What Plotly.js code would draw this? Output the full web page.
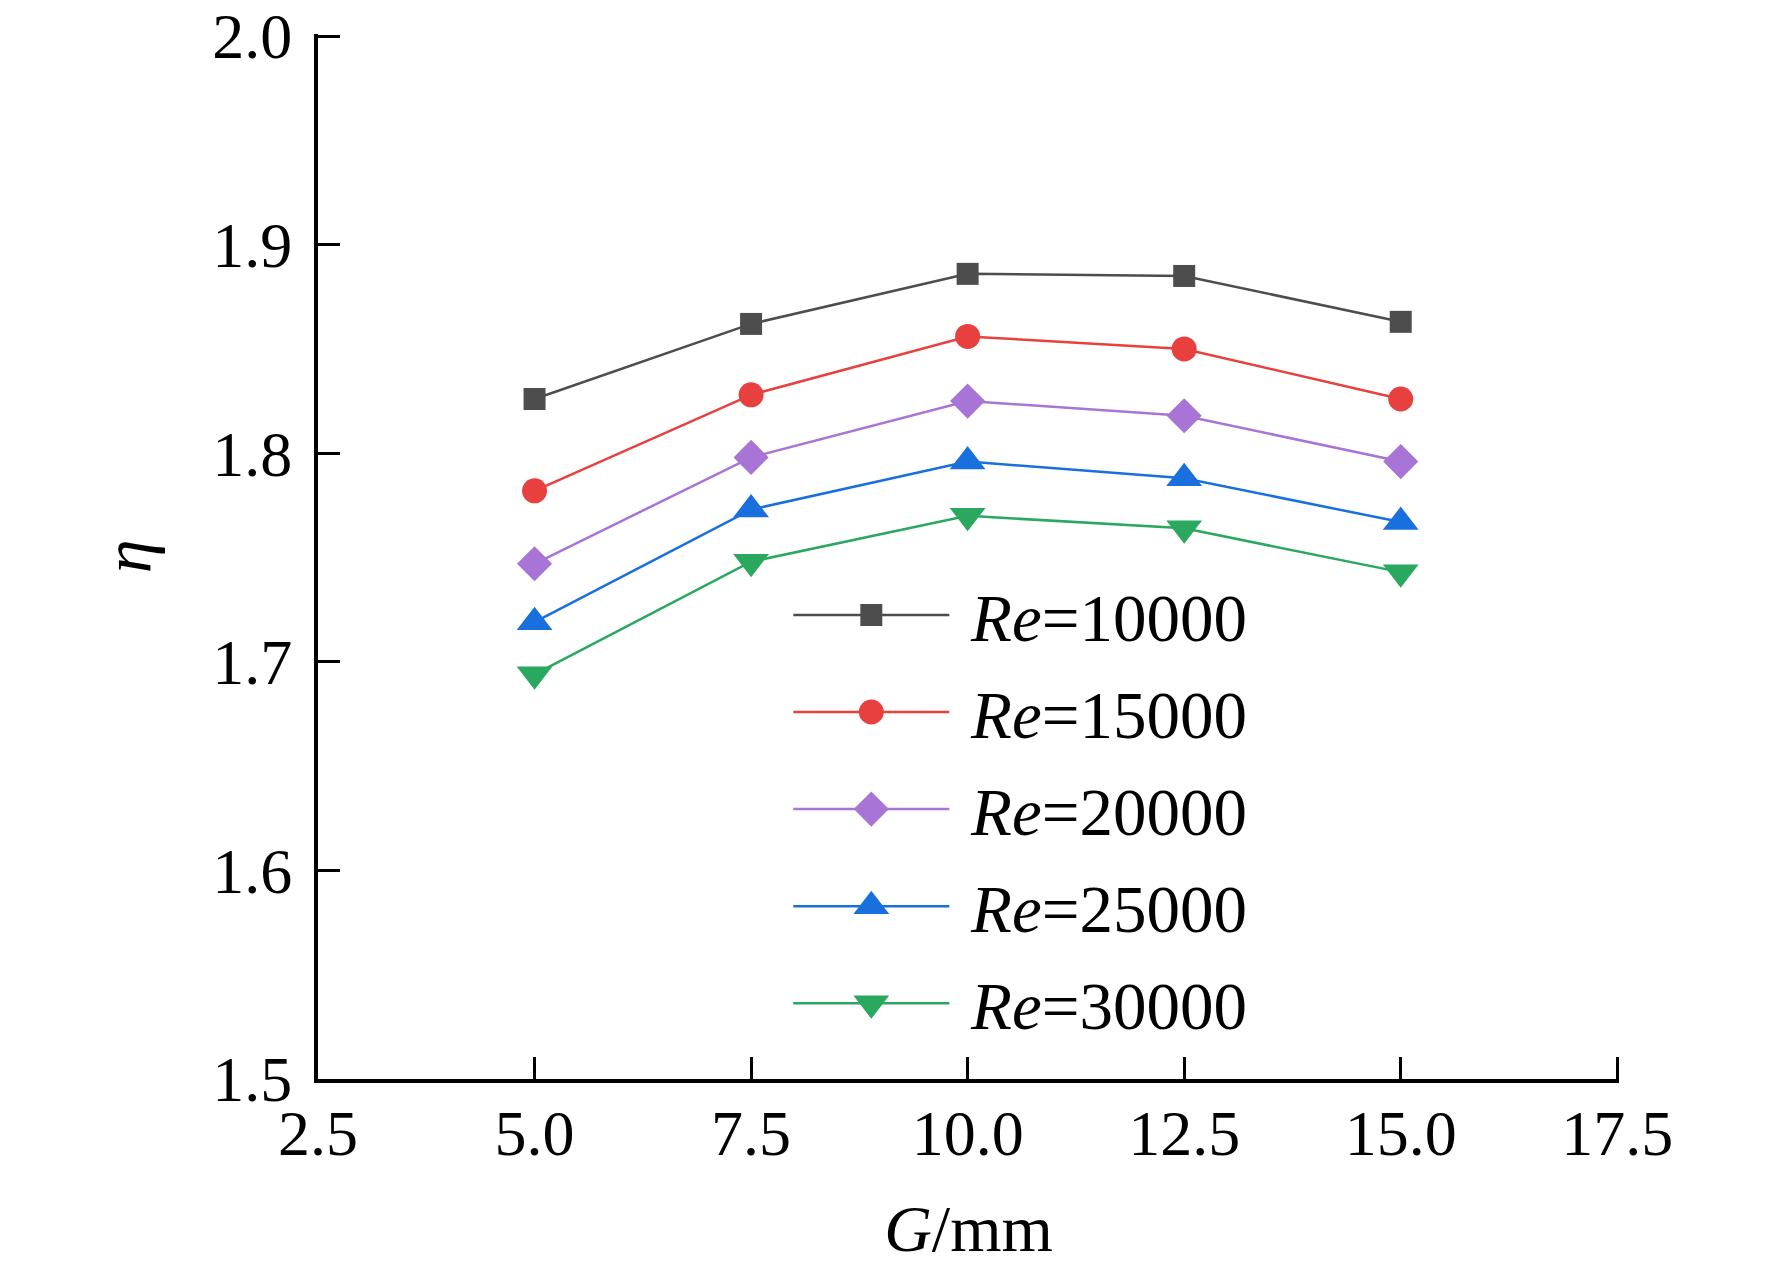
<!DOCTYPE html>
<html>
<head>
<meta charset="utf-8">
<script src="https://cdn.plot.ly/plotly-3.0.1.min.js"></script>
<style>
  html, body { margin: 0; padding: 0; background: #fff; }
  #chart { width: 1772px; height: 1272px; }
</style>
</head>
<body>
<div id="chart"></div>
<script>
// gap G in mm
const gap = [5.0, 7.5, 10.0, 12.5, 15.0];

// eta per Reynolds number
const eta10000 = [1.826, 1.862, 1.886, 1.885, 1.863];
const eta15000 = [1.782, 1.828, 1.856, 1.850, 1.826];
const eta20000 = [1.747, 1.798, 1.825, 1.818, 1.796];
const eta25000 = [1.719, 1.773, 1.796, 1.788, 1.767];
const eta30000 = [1.694, 1.748, 1.770, 1.764, 1.743];

const reLabels = ["10000", "15000", "20000", "25000", "30000"];

const xTicks = [2.5, 5, 7.5, 10, 12.5, 15, 17.5];
const xTickText = ["2.5", "5.0", "7.5", "10.0", "12.5", "15.0", "17.5"];
const yTicks = [1.5, 1.6, 1.7, 1.8, 1.9, 2.0];
const yTickText = ["1.5", "1.6", "1.7", "1.8", "1.9", "2.0"];

const serif = "Liberation Serif, Times New Roman, serif";

function series(y, idx, color, symbol, size) {
  return {
    x: gap,
    y: y,
    type: "scatter",
    mode: "lines+markers",
    name: "&nbsp;<i>Re</i>=" + reLabels[idx],
    legendgroup: "g" + idx,
    line: { color: color, width: 2.5 },
    marker: { color: color, symbol: symbol, size: size, line: { width: 0 } }
  };
}

const traces = [
  series(eta10000, 0, "#4d4d4d", "square", 22),
  series(eta15000, 1, "#e8403f", "circle", 25),
  series(eta20000, 2, "#a874d6", "diamond", 27),
  series(eta25000, 3, "#1a6fdf", "triangle-up", 31),
  series(eta30000, 4, "#2aa860", "triangle-down", 31)
];

const layout = {
  width: 1772,
  height: 1272,
  paper_bgcolor: "#fff",
  plot_bgcolor: "#fff",
  margin: { l: 318, r: 153, t: 34, b: 193 },
  font: { family: serif, color: "#000", size: 64 },
  showlegend: true,
  legend: {
    x: 0.3615,
    y: 0.492,
    xanchor: "left",
    yanchor: "top",
    bgcolor: "rgba(0,0,0,0)",
    font: { family: serif, size: 67, color: "#000" },
    traceorder: "grouped",
    tracegroupgap: 7,
    itemwidth: 156
  },
  xaxis: {
    range: [2.5, 17.52],
    tickvals: xTicks,
    ticktext: xTickText,
    ticks: "inside",
    ticklen: 22,
    tickwidth: 3,
    tickcolor: "#000",
    showline: true,
    linewidth: 4,
    linecolor: "#000",
    showgrid: false,
    zeroline: false,
    ticklabelstandoff: -5,
    ticklabeloverflow: "allow",
    tickfont: { family: serif, size: 64 },
    title: { text: "<i>G</i>/mm", font: { family: serif, size: 66 }, standoff: 38 }
  },
  yaxis: {
    range: [1.5, 2.001],
    tickvals: yTicks,
    ticktext: yTickText,
    ticks: "inside",
    ticklen: 22,
    tickwidth: 3,
    tickcolor: "#000",
    showline: true,
    linewidth: 4,
    linecolor: "#000",
    showgrid: false,
    zeroline: false,
    ticklabelstandoff: 9,
    ticklabeloverflow: "allow",
    tickfont: { family: serif, size: 64 },
    title: { text: "<i>η</i>", font: { family: serif, size: 68 }, standoff: 39 }
  }
};

Plotly.newPlot("chart", traces, layout, { staticPlot: true }).then(function (gd) {
  // legend symbols are capped at 16px; scale them up to match the plotted markers
  const items = gd.querySelectorAll(".legend .traces");
  items.forEach(function (item, i) {
    const k = traces[i].marker.size / 16;
    item.querySelectorAll(".legendpoints path.scatterpts").forEach(function (p) {
      const t = p.getAttribute("transform") || "";
      p.setAttribute("transform", t + " scale(" + k + ")");
    });
  });
});
</script>
</body>
</html>
